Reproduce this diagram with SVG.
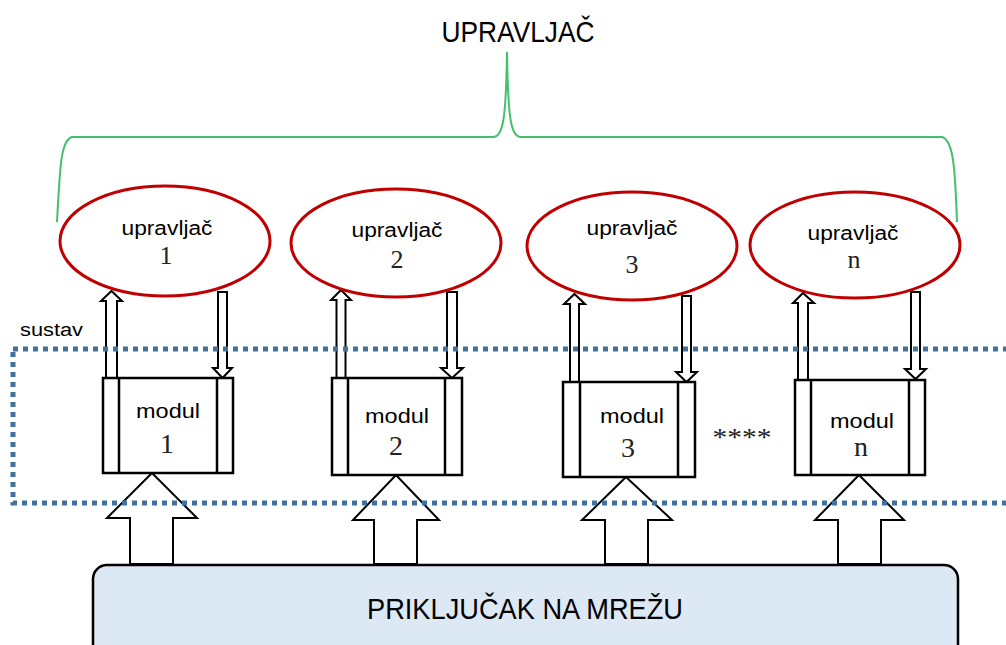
<svg xmlns="http://www.w3.org/2000/svg" width="1006" height="645" viewBox="0 0 1006 645">
<style>
.ell{fill:#fff;stroke:#c00000;stroke-width:3}
.mod{fill:#fff;stroke:#000;stroke-width:2.5}
.arr{fill:#fff;stroke:#000;stroke-width:2;stroke-linejoin:miter}
.sans{font-family:"Liberation Sans",Arial,sans-serif;fill:#000}
.serif{font-family:"Liberation Serif","Times New Roman",serif;fill:#222}
.lbl{font-size:20px;text-anchor:middle}
.num{font-size:26px;text-anchor:middle}
.mnum{font-size:28px;text-anchor:middle}
</style>
<rect width="1006" height="645" fill="#fff"/>

<g id="upravljac-glavni">
<path d="M57 222 C60 165 61 140 72 137 L493 137 C503 137 506 120 507 52 C508 120 511 137 521 137 L942 137 C953 140 955 165 957 222" fill="none" stroke="#45c06a" stroke-width="2"/>
<text class="sans" x="518" y="42" font-size="29" text-anchor="middle" textLength="153" lengthAdjust="spacingAndGlyphs">UPRAVLJAČ</text>
</g>

<g id="connectors">
<!-- column 1 -->
<polygon class="arr" points="111.5,291 122,301 117,301 117,378 106,378 106,301 101,301"/>
<polygon class="arr" points="218,292 227,292 227,368 232,368 222.5,378 213,368 218,368"/>
<polygon class="arr" points="152,473 197,518 173,518 173,564 130,564 130,518 107,518"/>
<!-- column 2 -->
<polygon class="arr" points="341,290 351,300 345.5,300 345.5,378 336.5,378 336.5,300 331,300"/>
<polygon class="arr" points="447,292 457,292 457,368 463,368 452,378 441,368 447,368"/>
<polygon class="arr" points="396,475 439,520 417,520 417,564 374,564 374,520 353,520"/>
<!-- column 3 -->
<polygon class="arr" points="574.5,294 585,304 579,304 579,382 570,382 570,304 564,304"/>
<polygon class="arr" points="682,296 691,296 691,372 697,372 686.5,382 676,372 682,372"/>
<polygon class="arr" points="626,477 672,520 648,520 648,564 605,564 605,520 582,520"/>
<!-- column n -->
<polygon class="arr" points="803,293 814,303 808,303 808,380 798,380 798,303 793,303"/>
<polygon class="arr" points="911,292 920,292 920,369 926,369 915.5,379 905,369 911,369"/>
<polygon class="arr" points="859,475 904,520 881,520 881,564 838,564 838,520 815,520"/>
</g>

<g id="upravljac-1">
<ellipse class="ell" cx="165" cy="241" rx="105" ry="55"/>
<text class="sans lbl" x="167" y="235" textLength="91" lengthAdjust="spacingAndGlyphs">upravljač</text>
<text class="serif num" x="166" y="264">1</text>
</g>
<g id="upravljac-2">
<ellipse class="ell" cx="396" cy="243" rx="105" ry="54"/>
<text class="sans lbl" x="397" y="237" textLength="91" lengthAdjust="spacingAndGlyphs">upravljač</text>
<text class="serif num" x="397" y="268">2</text>
</g>
<g id="upravljac-3">
<ellipse class="ell" cx="632" cy="246" rx="105" ry="54"/>
<text class="sans lbl" x="632" y="235" textLength="91" lengthAdjust="spacingAndGlyphs">upravljač</text>
<text class="serif num" x="632" y="273">3</text>
</g>
<g id="upravljac-n">
<ellipse class="ell" cx="855" cy="245" rx="105" ry="53"/>
<text class="sans lbl" x="853" y="240" textLength="91" lengthAdjust="spacingAndGlyphs">upravljač</text>
<text class="serif num" x="854" y="268">n</text>
</g>

<g id="modul-1">
<rect class="mod" x="103" y="378" width="130" height="95"/>
<line class="mod" x1="119" y1="378" x2="119" y2="473"/>
<line class="mod" x1="217" y1="378" x2="217" y2="473"/>
<text class="sans lbl" x="168" y="418" textLength="64" lengthAdjust="spacingAndGlyphs">modul</text>
<text class="serif mnum" x="167" y="453">1</text>
</g>
<g id="modul-2">
<rect class="mod" x="332" y="378" width="130" height="97"/>
<line class="mod" x1="348" y1="378" x2="348" y2="475"/>
<line class="mod" x1="445" y1="378" x2="445" y2="475"/>
<text class="sans lbl" x="397" y="423" textLength="64" lengthAdjust="spacingAndGlyphs">modul</text>
<text class="serif mnum" x="396" y="455">2</text>
</g>
<g id="modul-3">
<rect class="mod" x="563" y="382" width="132" height="95"/>
<line class="mod" x1="580" y1="382" x2="580" y2="477"/>
<line class="mod" x1="678" y1="382" x2="678" y2="477"/>
<text class="sans lbl" x="632" y="423" textLength="64" lengthAdjust="spacingAndGlyphs">modul</text>
<text class="serif mnum" x="628" y="457">3</text>
</g>
<g id="modul-n">
<rect class="mod" x="795" y="380" width="130" height="95"/>
<line class="mod" x1="811" y1="380" x2="811" y2="475"/>
<line class="mod" x1="909" y1="380" x2="909" y2="475"/>
<text class="sans lbl" x="862" y="428" textLength="64" lengthAdjust="spacingAndGlyphs">modul</text>
<text class="serif mnum" x="861" y="456">n</text>
</g>

<g id="zvjezdice">
<text class="serif" x="742" y="446" font-size="26" text-anchor="middle" textLength="59" lengthAdjust="spacingAndGlyphs" fill="#333">****</text>
</g>

<g id="sustav">
<rect x="13" y="349" width="1100" height="154" fill="none" stroke="#41719c" stroke-width="5" stroke-dasharray="5 5"/>
<text class="sans" x="20" y="336" font-size="18" textLength="63" lengthAdjust="spacingAndGlyphs">sustav</text>
</g>

<g id="prikljucak">
<rect x="93" y="565" width="865" height="95" rx="14" fill="#dde8f5" stroke="#000" stroke-width="2.5"/>
<text class="sans" x="525" y="619" font-size="29" text-anchor="middle" textLength="316" lengthAdjust="spacingAndGlyphs">PRIKLJUČAK NA MREŽU</text>
</g>
</svg>
